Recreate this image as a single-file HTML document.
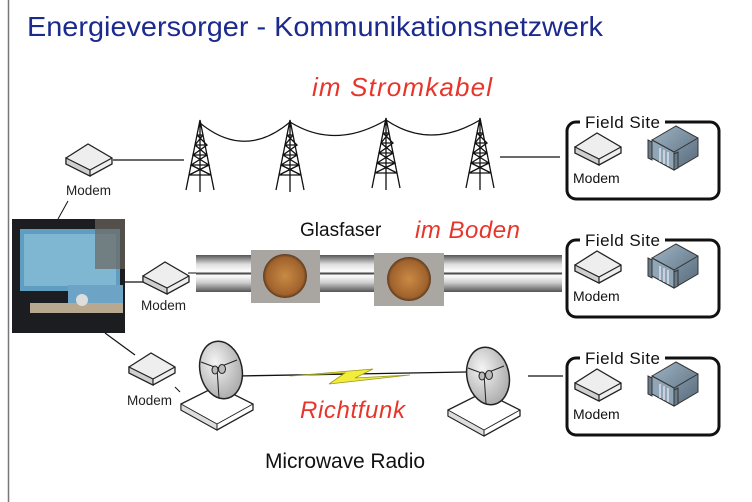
<!DOCTYPE html>
<html><head><meta charset="utf-8"><style>
html,body{margin:0;padding:0;background:#fff;}
svg{display:block;font-family:"Liberation Sans",Arial,sans-serif;}
</style></head><body>
<svg width="752" height="502" viewBox="0 0 752 502" xmlns="http://www.w3.org/2000/svg">
<defs>
<linearGradient id="pipe" x1="0" y1="0" x2="0" y2="1">
<stop offset="0" stop-color="#555"/><stop offset="0.25" stop-color="#ddd"/><stop offset="0.45" stop-color="#fff"/><stop offset="0.5" stop-color="#333"/><stop offset="0.55" stop-color="#fff"/><stop offset="0.75" stop-color="#ccc"/><stop offset="1" stop-color="#555"/>
</linearGradient>
<linearGradient id="srv" x1="0" y1="0" x2="1" y2="1"><stop offset="0" stop-color="#9fb4c4"/><stop offset="1" stop-color="#55697a"/></linearGradient>
<radialGradient id="dish" cx="0.4" cy="0.35" r="0.7"><stop offset="0" stop-color="#f4f4f4"/><stop offset="1" stop-color="#a8a8a8"/></radialGradient>
<radialGradient id="mh" cx="0.5" cy="0.5" r="0.5"><stop offset="0" stop-color="#c98a45"/><stop offset="0.85" stop-color="#a0622c"/><stop offset="1" stop-color="#5a3a20"/></radialGradient>
<g id="modem">
<path d="M0,14 L22,0 L46,14 L46,20 L24,32 L0,20 Z" fill="#eee" stroke="#222" stroke-width="1.3"/>
<path d="M0,14 L24,26 L24,32 L0,20Z" fill="#cfcfcf" stroke="#222" stroke-width="1.2"/>
<path d="M24,26 L46,14" stroke="#222" stroke-width="1.2"/>
</g>
<g id="server">
<path d="M6,14 L30,0 L52,12 L52,30 L28,44 L6,32Z" fill="url(#srv)" stroke="#333"/>
<path d="M6,14 L28,26 L52,12 M28,26 L28,44" fill="none" stroke="#333"/>
<path d="M6,14 L28,26 L28,44 L6,32Z" fill="#8fa6b6" stroke="#333"/>
<path d="M2,14 L6,16 L6,34 L2,32Z M28,28 L32,26 L32,42 L28,44Z" fill="#6a7c8a" stroke="#333"/>
<path d="M14,22 L14,36 M18,24 L18,38 M22,26 L22,40" stroke="#dde" stroke-width="1.5"/>
</g>
<g id="tower" fill="none" stroke="#111" stroke-width="1.3">
<path d="M0,70 L14,0 L28,70 M3,55 L25,55 M5,45 L23,45 M7,35 L21,35 M9,25 L19,25 M11,15 L17,15 M3,55 L23,45 L7,35 L21,25 L11,15 M25,55 L5,45 L21,35 L9,25 L17,15 M14,0 L14,72"/>
</g>
<g id="dishg">
<path d="M0,30 L36,12 L72,30 L72,36 L36,56 L0,36Z" fill="#fff" stroke="#222" stroke-width="1.3"/>
<path d="M0,30 L36,50 L36,56 L0,36Z" fill="#ddd" stroke="#222"/>
<path d="M36,50 L72,30" stroke="#222"/>
<ellipse cx="40" cy="-4" rx="21" ry="29" fill="url(#dish)" stroke="#222" stroke-width="1.5" transform="rotate(-12 40 -4)"/>
<path d="M20,-12 L36,-6 L56,-14 M36,-6 L38,24" fill="none" stroke="#222"/>
<ellipse cx="34" cy="-4" rx="3" ry="4" fill="#bbb" stroke="#222"/>
<ellipse cx="41" cy="-5" rx="3.5" ry="4.5" fill="#bbb" stroke="#222"/>
</g>
</defs>
<line x1="8.5" y1="0" x2="8.5" y2="502" stroke="#777" stroke-width="1.5"/>
<text x="27" y="36" font-size="28" fill="#1b2a8e" textLength="576" lengthAdjust="spacingAndGlyphs">Energieversorger - Kommunikationsnetzwerk</text>
<text x="312" y="96" font-size="26" fill="#e8352a" font-style="italic" font-family="'Liberation Sans',sans-serif" textLength="180">im Stromkabel</text>
<text x="415" y="238" font-size="24" fill="#e8352a" font-style="italic" font-family="'Liberation Sans',sans-serif" textLength="105">im Boden</text>
<text x="300" y="418" font-size="24" fill="#e8352a" font-style="italic" font-family="'Liberation Sans',sans-serif" textLength="105">Richtfunk</text>
<use href="#tower" x="186" y="120"/><use href="#tower" x="276" y="120"/><use href="#tower" x="372" y="118"/><use href="#tower" x="466" y="118"/>
<path d="M200,123 Q245,160 290,122 Q335,150 386,120 Q430,150 480,120" fill="none" stroke="#111" stroke-width="1.2"/>
<line x1="113" y1="160" x2="184" y2="160" stroke="#111" stroke-width="1.3"/>
<line x1="500" y1="157" x2="560" y2="157" stroke="#111" stroke-width="1.3"/>
<use href="#modem" x="66" y="144"/>
<text x="66" y="195" font-size="13.5" fill="#222">Modem</text>
<line x1="58" y1="219" x2="68" y2="201" stroke="#111"/>
<rect x="12" y="219" width="113" height="114" fill="#1b1d20"/>
<rect x="20" y="229" width="100" height="62" fill="#5f9ec0"/>
<rect x="24" y="234" width="92" height="52" fill="#7fb6d2"/>
<rect x="68" y="285" width="55" height="20" fill="#6da3c4"/>
<rect x="30" y="303" width="93" height="10" fill="#b8a890"/>
<circle cx="82" cy="300" r="6" fill="#ddd"/>
<rect x="95" y="219" width="30" height="50" fill="#6b6660" opacity="0.7"/>
<line x1="125" y1="282" x2="145" y2="282" stroke="#111" stroke-width="1.3"/>
<use href="#modem" x="143" y="262"/>
<text x="141" y="310" font-size="13.5" fill="#222">Modem</text>
<rect x="196" y="255" width="366" height="37" fill="url(#pipe)"/>
<line x1="188" y1="273" x2="196" y2="273" stroke="#111"/>
<rect x="251" y="250" width="69" height="53" fill="#a9a6a2"/>
<circle cx="285" cy="276" r="22" fill="url(#mh)"/>
<rect x="374" y="253" width="70" height="53" fill="#aaa7a3"/>
<circle cx="409" cy="279" r="22" fill="url(#mh)"/>
<text x="300" y="236" font-size="19" fill="#111">Glasfaser</text>
<line x1="105" y1="333" x2="135" y2="355" stroke="#111" stroke-width="1.2"/>
<use href="#modem" x="129" y="353"/>
<text x="127" y="405" font-size="13.5" fill="#222">Modem</text>
<line x1="175" y1="387" x2="180" y2="392" stroke="#111"/>
<line x1="237" y1="376" x2="466" y2="372" stroke="#111" stroke-width="1.3"/>
<path d="M329,384 L345,373 L290,376 L373,369 L355,378 L410,375 Z" fill="#f3ec3a" stroke="#9a9a20" stroke-width="0.8"/>
<use href="#dishg" x="181" y="374"/>
<use href="#dishg" x="448" y="380"/>
<line x1="528" y1="376" x2="563" y2="376" stroke="#111" stroke-width="1.3"/>
<text x="265" y="468" font-size="21" fill="#111" textLength="160">Microwave Radio</text>
<g id="fs">
<rect x="567" y="122" width="152" height="77" rx="9" fill="none" stroke="#111" stroke-width="3"/>
<rect x="580" y="110" width="85" height="20" fill="#fff"/>
<text x="585" y="128" font-size="17" fill="#111" textLength="75">Field Site</text>
<use href="#modem" x="575" y="133"/>
<text x="573" y="183" font-size="14" fill="#111">Modem</text>
<use href="#server" x="646" y="126"/>
</g>
<use href="#fs" y="118"/>
<use href="#fs" y="236"/>
</svg>
</body></html>
